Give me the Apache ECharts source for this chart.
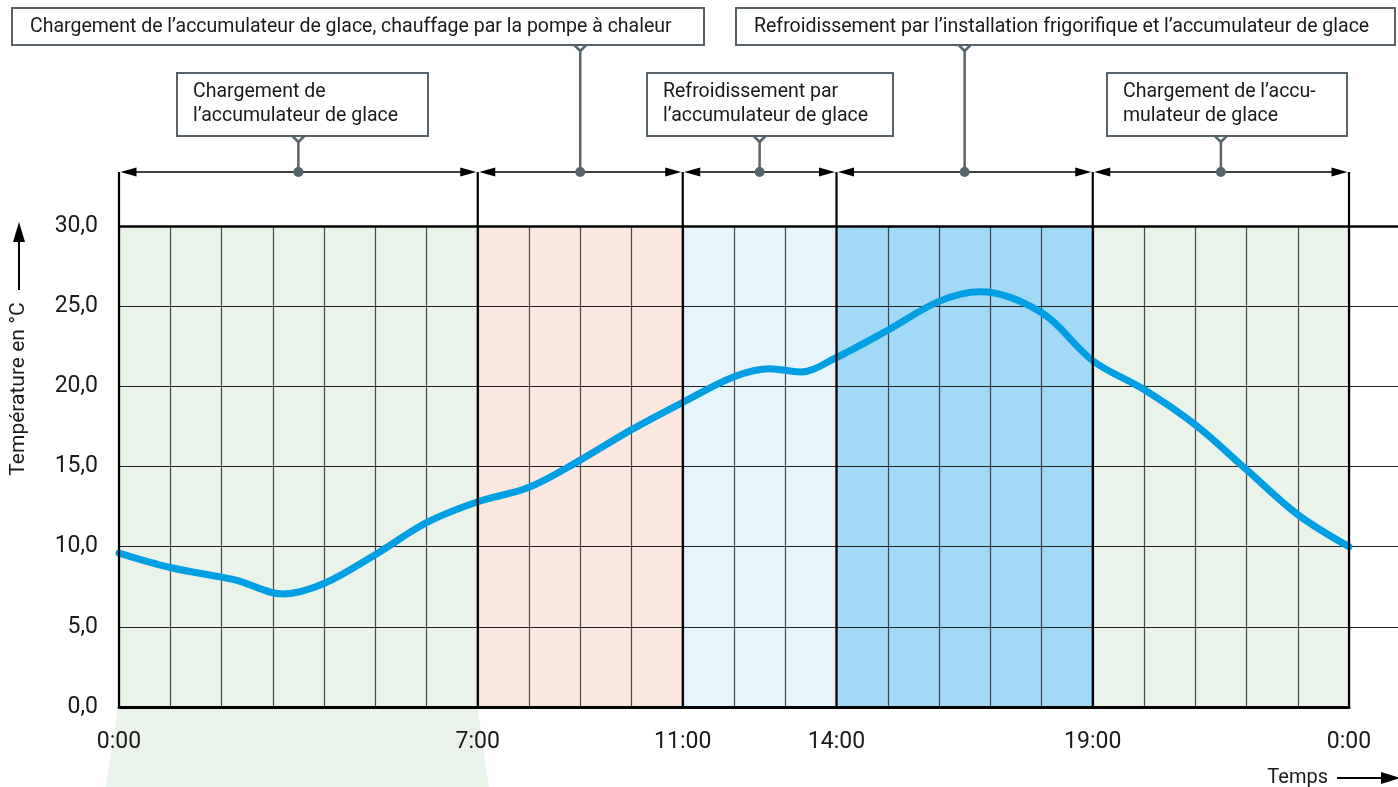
<!DOCTYPE html>
<html>
<head>
<meta charset="utf-8">
<script src="https://cdn.jsdelivr.net/npm/echarts@6/dist/echarts.min.js"></script>
<style>
html,body{margin:0;padding:0;background:#fff;}
#chart{width:1398px;height:787px;}
</style>
</head>
<body>
<div id="chart"></div>
<script>
// temperature curve (hour of day -> °C)
var hours = [0, 1, 2, 2.3, 3.2, 4, 5, 6, 7, 8, 9, 10, 11, 12, 12.7, 13.3, 14, 15, 16, 16.8, 18, 19, 20, 21, 22, 23, 24];
var temps = [9.6, 8.7, 8.1, 7.9, 7.05, 7.7, 9.5, 11.5, 12.8, 13.7, 15.4, 17.3, 19.0, 20.6, 21.1, 20.9, 21.8, 23.5, 25.3, 25.9, 24.6, 21.6, 19.8, 17.6, 14.8, 12.0, 10.0];

// operating phases
var phaseStarts = [0, 7, 11, 14, 19];
var phaseEnds = [7, 11, 14, 19, 24];
var phaseColors = ['#e9f3ea', '#fbe9e1', '#e6f4fc', '#a2d9f6', '#e9f3ea'];

// x tick labels
var labelHours = [0, 7, 11, 14, 19, 24];
var labelTexts = ['0:00', '7:00', '11:00', '14:00', '19:00', '0:00'];

// annotations: text lines, phase index, level (0 = lower row, 1 = top row)
var noteLines = [
  ['Chargement de', 'l\u2019accumulateur de glace'],
  ['Chargement de l\u2019accumulateur de glace, chauffage par la pompe \u00e0 chaleur'],
  ['Refroidissement par', 'l\u2019accumulateur de glace'],
  ['Refroidissement par l\u2019installation frigorifique et l\u2019accumulateur de glace'],
  ['Chargement de l\u2019accu-', 'mulateur de glace']
];
var notePhase = [0, 1, 2, 3, 4];
var noteLevel = [0, 1, 0, 1, 0];

var yMin = 0, yMax = 30, yStep = 5;

var FONT = 'Roboto, "Liberation Sans", sans-serif';
var ink = '#1a1a1a';
var noteGrey = '#56636b';

var myChart = echarts.init(document.getElementById('chart'));

var curve = [];
for (var i = 0; i < hours.length; i++) {
  curve.push([hours[i], temps[i]]);
}
var bands = [];
for (var j = 0; j < phaseStarts.length; j++) {
  bands.push([phaseStarts[j], phaseEnds[j], j]);
}

var option = {
  animation: false,
  grid: [
    {left: 119, right: 49, top: 226, bottom: 80},
    {left: 119, right: 0, top: 226, bottom: 80}
  ],
  xAxis: [
    {
      type: 'value', gridIndex: 0, min: 0, max: 24, interval: 1, z: 1,
      axisLine: {show: true, lineStyle: {color: '#000', width: 3}},
      axisTick: {show: false},
      splitLine: {show: true, lineStyle: {color: 'rgba(20,20,20,0.75)', width: 1.2}},
      axisLabel: {
        interval: 0, margin: 24, fontSize: 23, color: ink, fontFamily: FONT,
        showMinLabel: true, showMaxLabel: true,
        formatter: function (v) {
          var k = labelHours.indexOf(v);
          return k >= 0 ? labelTexts[k] : '';
        }
      }
    },
    {type: 'value', gridIndex: 1, min: 0, max: 1, show: false}
  ],
  yAxis: [
    {
      type: 'value', gridIndex: 0, min: yMin, max: yMax, interval: yStep,
      axisLine: {show: false}, axisTick: {show: false}, axisLabel: {show: false},
      splitLine: {show: false}
    },
    {
      type: 'value', gridIndex: 1, min: yMin, max: yMax, interval: yStep, z: 1,
      axisLine: {show: false}, axisTick: {show: false},
      axisLabel: {
        margin: 21, fontSize: 23, color: ink, fontFamily: FONT,
        formatter: function (v) { return v.toFixed(1).replace('.', ','); }
      },
      splitLine: {
        show: true,
        lineStyle: {color: ['rgba(0,0,0,0)', '#222', '#222', '#222', '#222', '#222', '#222'], width: 1.2}
      }
    }
  ],
  series: [
    {
      type: 'custom', xAxisIndex: 0, yAxisIndex: 0, z: 0, silent: true,
      data: bands,
      renderItem: function (params, api) {
        var p0 = api.coord([api.value(0), yMax]);
        var p1 = api.coord([api.value(1), yMin]);
        return {
          type: 'rect',
          shape: {x: p0[0], y: p0[1], width: p1[0] - p0[0], height: p1[1] - p0[1]},
          style: {fill: phaseColors[api.value(2)]}
        };
      }
    },
    {
      type: 'line', xAxisIndex: 1, yAxisIndex: 1, data: [], z: 2,
      markLine: {
        silent: true, symbol: 'none', label: {show: false},
        lineStyle: {color: '#000', width: 2.5, type: 'solid'},
        data: [{yAxis: yMax}]
      }
    },
    {
      type: 'line', xAxisIndex: 0, yAxisIndex: 0, z: 3,
      data: curve,
      smooth: 0.35,
      showSymbol: false,
      lineStyle: {color: '#009fe3', width: 7, cap: 'round'}
    }
  ]
};
myChart.setOption(option);

// overlay drawing: phase brackets, notes, axis titles
function px(h) { return myChart.convertToPixel({xAxisIndex: 0}, h); }
function py(v) { return myChart.convertToPixel({yAxisIndex: 0}, v); }

var g = [];
var yArrow = 172;
var yBottom = py(yMin);

// green apron under the night phase
g.push({
  type: 'polygon', z: -1, silent: true,
  shape: {points: [[px(phaseStarts[0]) - 1, yBottom], [px(phaseEnds[0]), yBottom], [px(phaseEnds[0]) + 11, 787], [px(phaseStarts[0]) - 13, 787]]},
  style: {fill: phaseColors[0]}
});

function arrowHead(tipX, tipY, dir) {
  var len = 16, half = 4.5;
  return {
    type: 'polygon', z: 10, silent: true,
    shape: {points: [[tipX, tipY], [tipX - dir * len, tipY - half], [tipX - dir * len, tipY + half]]},
    style: {fill: '#000'}
  };
}

// boundaries
var bounds = phaseStarts.concat([phaseEnds[phaseEnds.length - 1]]);
bounds.forEach(function (b) {
  g.push({
    type: 'line', z: 9, silent: true,
    shape: {x1: px(b), y1: yArrow, x2: px(b), y2: yBottom},
    style: {stroke: '#000', lineWidth: 2.2}
  });
});

// arrow segments for each phase
for (var k = 0; k < phaseStarts.length; k++) {
  var xa = px(phaseStarts[k]) + 1.5, xb = px(phaseEnds[k]) - 1.5;
  g.push({
    type: 'line', z: 9, silent: true,
    shape: {x1: xa + 4, y1: yArrow, x2: xb - 4, y2: yArrow},
    style: {stroke: '#000', lineWidth: 1.5}
  });
  g.push(arrowHead(xa, yArrow, -1));
  g.push(arrowHead(xb, yArrow, 1));
}

// notes
var boxLeft = [177, 12, 647, 736, 1107];
var boxRight = [428, 704, 893, 1395, 1347];
for (var n = 0; n < noteLines.length; n++) {
  var ph = notePhase[n];
  var mid = px((phaseStarts[ph] + phaseEnds[ph]) / 2);
  var boxTop = noteLevel[n] ? 8 : 73;
  var boxBot = noteLevel[n] ? 45 : 136;
  g.push({
    type: 'rect', z: 11, silent: true,
    shape: {x: boxLeft[n], y: boxTop, width: boxRight[n] - boxLeft[n], height: boxBot - boxTop},
    style: {fill: '#fff', stroke: noteGrey, lineWidth: 2}
  });
  g.push({
    type: 'polyline', z: 12, silent: true,
    shape: {points: [[mid - 6, boxBot], [mid, boxBot + 6], [mid + 6, boxBot]]},
    style: {stroke: noteGrey, lineWidth: 2.5, fill: null}
  });
  g.push({
    type: 'line', z: 12, silent: true,
    shape: {x1: mid, y1: boxBot + 5, x2: mid, y2: yArrow},
    style: {stroke: noteGrey, lineWidth: 2.5}
  });
  g.push({
    type: 'circle', z: 12, silent: true,
    shape: {cx: mid, cy: yArrow, r: 5},
    style: {fill: noteGrey}
  });
  var lines = noteLines[n];
  for (var l = 0; l < lines.length; l++) {
    g.push({
      type: 'text', z: 13, silent: true,
      x: boxLeft[n] + (noteLevel[n] ? 18 : 16),
      y: noteLevel[n] ? 27 : 92 + l * 24,
      style: {text: lines[l], fill: ink, font: '19.5px ' + FONT, textVerticalAlign: 'middle', textAlign: 'left'}
    });
  }
}

// y axis title with arrow
g.push({
  type: 'text', z: 13, silent: true,
  x: 19, y: 389, rotation: Math.PI / 2,
  style: {text: 'Temp\u00e9rature en \u00b0C', fill: ink, font: '21px ' + FONT, textAlign: 'center', textVerticalAlign: 'middle'}
});
g.push({
  type: 'line', z: 13, silent: true,
  shape: {x1: 19, y1: 290, x2: 19, y2: 238},
  style: {stroke: '#000', lineWidth: 2}
});
g.push({
  type: 'polygon', z: 13, silent: true,
  shape: {points: [[19, 222], [13, 242], [25, 242]]},
  style: {fill: '#000'}
});

// x axis title with arrow
g.push({
  type: 'text', z: 13, silent: true,
  x: 1328, y: 778,
  style: {text: 'Temps', fill: ink, font: '20px ' + FONT, textAlign: 'right', textVerticalAlign: 'middle'}
});
g.push({
  type: 'line', z: 13, silent: true,
  shape: {x1: 1337, y1: 778, x2: 1385, y2: 778},
  style: {stroke: '#000', lineWidth: 2}
});
g.push({
  type: 'polygon', z: 13, silent: true,
  shape: {points: [[1400, 778], [1381, 772], [1381, 784]]},
  style: {fill: '#000'}
});

myChart.setOption({graphic: {elements: g}});
</script>
</body>
</html>
